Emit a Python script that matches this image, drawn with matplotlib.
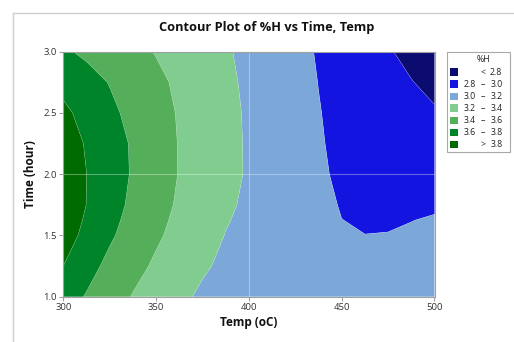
import numpy as np
import matplotlib
matplotlib.use("Agg")
import matplotlib.pyplot as plt
from matplotlib.patches import Rectangle
from matplotlib.lines import Line2D

plt.rcParams['font.family'] = ['Open Sans', 'DejaVu Sans']

# ---- data ----
temps = [300, 312.5, 325, 337.5, 350, 362.5, 375, 387.5, 400,
         412.5, 425, 437.5, 450, 462.5, 475, 487.5, 500]
times = [1.0, 1.25, 1.5, 1.625, 1.75, 2.0, 2.25, 2.5, 2.75, 3.0]
h_t1000 = [3.686, 3.586, 3.487, 3.390, 3.315, 3.239, 3.170, 3.150, 3.135,
           3.122, 3.112, 3.104, 3.098, 3.094, 3.092, 3.094, 3.100]
h_t1250 = [3.800, 3.667, 3.553, 3.458, 3.372, 3.297, 3.223, 3.165, 3.135,
           3.110, 3.090, 3.075, 3.063, 3.055, 3.053, 3.058, 3.070]
h_t1500 = [3.881, 3.753, 3.625, 3.522, 3.426, 3.345, 3.270, 3.195, 3.145,
           3.100, 3.060, 3.030, 3.010, 3.001, 3.003, 3.015, 3.040]
h_t1625 = [3.900, 3.779, 3.651, 3.542, 3.446, 3.361, 3.286, 3.211, 3.162,
           3.112, 3.068, 3.030, 3.001, 2.990, 2.990, 2.998, 3.010]
h_t1750 = [3.915, 3.798, 3.675, 3.562, 3.466, 3.377, 3.302, 3.227, 3.171,
           3.126, 3.081, 3.036, 2.992, 2.982, 2.975, 2.978, 2.984]
h_t2000 = [3.911, 3.801, 3.691, 3.583, 3.487, 3.393, 3.321, 3.249, 3.183,
           3.130, 3.077, 3.025, 2.972, 2.966, 2.958, 2.944, 2.928]
h_t2250 = [3.890, 3.786, 3.682, 3.580, 3.485, 3.392, 3.320, 3.248, 3.182,
           3.126, 3.071, 3.016, 2.960, 2.945, 2.924, 2.899, 2.872]
h_t2500 = [3.840, 3.740, 3.640, 3.550, 3.467, 3.386, 3.316, 3.245, 3.179,
           3.122, 3.064, 3.006, 2.962, 2.927, 2.891, 2.854, 2.816]
h_t2750 = [3.745, 3.668, 3.592, 3.516, 3.440, 3.368, 3.300, 3.233, 3.171,
           3.113, 3.055, 2.998, 2.950, 2.902, 2.854, 2.806, 2.758]
h_t3000 = [3.625, 3.567, 3.508, 3.450, 3.391, 3.333, 3.276, 3.218, 3.160,
           3.103, 3.046, 2.988, 2.930, 2.872, 2.814, 2.756, 2.698]

levels = [2.5, 2.8, 3.0, 3.2, 3.4, 3.6, 3.8, 4.1]
band_colors = ['#0c0c70', '#1414e0', '#7ba7d9', '#80cd8f', '#55ae59', '#00842a', '#006b00']
leg_low = ['', '2.8', '3.0', '3.2', '3.4', '3.6', '']
leg_mid = ['<', '\u2013', '\u2013', '\u2013', '\u2013', '\u2013', '>']
leg_high = ['2.8', '3.0', '3.2', '3.4', '3.6', '3.8', '3.8']

xticks = [300, 350, 400, 450, 500]
yticks = [1.0, 1.5, 2.0, 2.5, 3.0]

# ---- figure ----
W, H = 514, 342
fig = plt.figure(figsize=(W / 100, H / 100), dpi=100)

def fx(x):
    return x / W

def fy(y):
    return 1 - y / H

# outer frame (left / top)
fig.add_artist(Line2D([fx(13), fx(13)], [fy(13), fy(342)], color='#cfcfcf', lw=1.0))
fig.add_artist(Line2D([fx(13), fx(514)], [fy(13), fy(13)], color='#cfcfcf', lw=1.0))

x0, x1, y0, y1 = 63.3, 434.5, 51.7, 296.7
ax = fig.add_axes([fx(x0), fy(y1), fx(x1) - fx(x0), (y1 - y0) / H])

Z = np.array([h_t1000, h_t1250, h_t1500, h_t1625, h_t1750, h_t2000,
              h_t2250, h_t2500, h_t2750, h_t3000])
X, Y = np.meshgrid(temps, times)
ax.contourf(X, Y, Z, levels=levels, colors=band_colors, antialiased=True)
ax.contour(X, Y, Z, levels=levels[1:-1], colors='white', linewidths=0.4, alpha=0.25)

ax.axvline(400, color='white', lw=0.8, alpha=0.35)
ax.axhline(2.0, color='white', lw=0.8, alpha=0.35)

ax.set_xlim(300, 500)
ax.set_ylim(1.0, 3.0)
ax.set_xticks(xticks)
ax.set_yticks(yticks)
ax.set_xticklabels([str(v) for v in xticks])
ax.set_yticklabels(['%.1f' % v for v in yticks])
for s in ax.spines.values():
    s.set_color('#a0a0a0')
    s.set_linewidth(0.8)
ax.tick_params(axis='both', colors='#a0a0a0', labelcolor='#333333', labelsize=6.8,
               length=3, width=0.8, pad=1.5)

ax.set_xlabel('Temp (oC)', fontsize=8.5, fontweight='bold', color='#111111', labelpad=3)
ax.set_ylabel('Time (hour)', fontsize=8.5, fontweight='bold', color='#111111', labelpad=5)

fig.text(fx(266.5), fy(27), 'Contour Plot of %H vs Time, Temp', ha='center', va='center',
         fontsize=9.2, fontweight='bold', color='#111111')

# ---- legend ----
fig.add_artist(Rectangle((fx(447.3), fy(151.7)), fx(510) - fx(447.3), (151.7 - 51.7) / H,
                         transform=fig.transFigure, facecolor='white', edgecolor='#a8a8a8', lw=0.8))
fig.text(fx(483.5), fy(59.5), '%H', ha='center', va='center', fontsize=6.3, color='#222222')
for i, col in enumerate(band_colors):
    yc = 72.3 + 12 * i
    fig.add_artist(Rectangle((fx(450.3), fy(yc + 3.8)), fx(458.3) - fx(450.3), 7.6 / H,
                             transform=fig.transFigure, facecolor=col, edgecolor='none'))
    fig.text(fx(475.7), fy(yc), leg_low[i], ha='right', va='center', fontsize=6.3, color='#222222')
    fig.text(fx(482.7), fy(yc), leg_mid[i], ha='center', va='center', fontsize=6.3, color='#222222')
    fig.text(fx(502.5), fy(yc), leg_high[i], ha='right', va='center', fontsize=6.3, color='#222222')

fig.savefig('out.png', dpi=100)
